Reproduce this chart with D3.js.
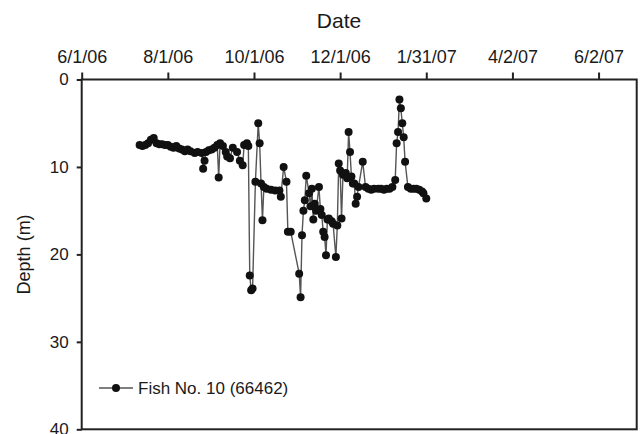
<!DOCTYPE html>
<html>
<head>
<meta charset="utf-8">
<script src="https://cdn.jsdelivr.net/npm/d3@7"></script>
<style>
  body { margin: 0; background: #fff; }
  svg text { font-family: Arial, "Liberation Sans", sans-serif; fill: #1a1a1a; }
</style>
</head>
<body>
<svg id="canvas" width="641" height="434"></svg>
<script>
const fechas = [
    "2006-07-12", "2006-07-14", "2006-07-16", "2006-07-18", "2006-07-20", "2006-07-22",
    "2006-07-24", "2006-07-26", "2006-07-28", "2006-07-30", "2006-08-01", "2006-08-03",
    "2006-08-05", "2006-08-07", "2006-08-09", "2006-08-11", "2006-08-13", "2006-08-15",
    "2006-08-17", "2006-08-20", "2006-08-22", "2006-08-25", "2006-08-26", "2006-08-27",
    "2006-08-28", "2006-08-30", "2006-09-01", "2006-09-03", "2006-09-05", "2006-09-06",
    "2006-09-07", "2006-09-09", "2006-09-11", "2006-09-12", "2006-09-14", "2006-09-16",
    "2006-09-19", "2006-09-21", "2006-09-23", "2006-09-24", "2006-09-26", "2006-09-27",
    "2006-09-28", "2006-09-29", "2006-09-30", "2006-10-02", "2006-10-04", "2006-10-05",
    "2006-10-06", "2006-10-07", "2006-10-08", "2006-10-10", "2006-10-13", "2006-10-16",
    "2006-10-19", "2006-10-20", "2006-10-22", "2006-10-24", "2006-10-25", "2006-10-27",
    "2006-11-02", "2006-11-03", "2006-11-04", "2006-11-05", "2006-11-06", "2006-11-07",
    "2006-11-09", "2006-11-10", "2006-11-11", "2006-11-12", "2006-11-13", "2006-11-14",
    "2006-11-16", "2006-11-17", "2006-11-18", "2006-11-19", "2006-11-20", "2006-11-21",
    "2006-11-22", "2006-11-23", "2006-11-25", "2006-11-26", "2006-11-28", "2006-11-29",
    "2006-11-30", "2006-12-01", "2006-12-02", "2006-12-03", "2006-12-05", "2006-12-06",
    "2006-12-07", "2006-12-08", "2006-12-09", "2006-12-10", "2006-12-11", "2006-12-12",
    "2006-12-13", "2006-12-14", "2006-12-17", "2006-12-19", "2006-12-21", "2006-12-23",
    "2006-12-25", "2006-12-28", "2006-12-30", "2007-01-01", "2007-01-03", "2007-01-05",
    "2007-01-07", "2007-01-09", "2007-01-10", "2007-01-11", "2007-01-12", "2007-01-13",
    "2007-01-14", "2007-01-15", "2007-01-16", "2007-01-18", "2007-01-20", "2007-01-22",
    "2007-01-24", "2007-01-26", "2007-01-28", "2007-01-29", "2007-01-31"
];

const profundidades = [
    7.5, 7.6, 7.5, 7.3, 6.9, 6.7,
    7.3, 7.4, 7.4, 7.5, 7.5, 7.7,
    7.8, 7.6, 7.9, 8.0, 8.2, 8.0,
    8.2, 8.4, 8.3, 8.4, 10.2, 9.3,
    8.3, 8.1, 8.0, 7.8, 7.5, 11.2,
    7.3, 7.6, 8.3, 8.8, 9.0, 7.8,
    8.3, 9.3, 9.8, 7.5, 7.3, 7.6,
    22.4, 24.1, 23.9, 11.7, 5.0, 7.3,
    11.9, 16.1, 12.3, 12.5, 12.6, 12.7,
    12.7, 13.4, 10.0, 11.7, 17.4, 17.4,
    22.2, 24.9, 17.8, 15.0, 13.8, 11.0,
    13.0, 14.5, 12.5, 16.0, 14.2, 15.0,
    12.3, 14.8, 15.5, 17.4, 18.0, 20.1,
    16.0, 15.9, 16.2, 16.5, 20.3, 16.7,
    9.6, 10.4, 15.9, 10.9, 10.7, 11.3,
    6.0, 8.3, 11.1, 11.9, 11.9, 14.2,
    13.4, 12.3, 9.4, 12.3, 12.5, 12.6,
    12.5, 12.5, 12.5, 12.6, 12.5, 12.5,
    12.3, 11.5, 7.3, 6.0, 2.3, 3.3,
    5.0, 6.6, 9.4, 12.3, 12.5, 12.5,
    12.5, 12.6, 12.8, 13.0, 13.6
];

const etiquetasFecha = ["6/1/06", "8/1/06", "10/1/06", "12/1/06", "1/31/07", "4/2/07", "6/2/07"];
const ticksFecha = ["2006-06-01", "2006-08-01", "2006-10-01", "2006-12-01", "2007-01-31", "2007-04-02", "2007-06-02"];
const ticksProfundidad = [0, 10, 20, 30, 40];
const nombreSerie = "Fish No. 10 (66462)";

const svg = d3.select("#canvas");
const parse = d3.utcParse("%Y-%m-%d");

const izq = 81.7, der = 636.7, arriba = 79.5, abajo = 429.3;

const x = d3.scaleUtc()
    .domain([parse("2006-06-01"), parse("2007-06-29")])
    .range([izq, der]);

const y = d3.scaleLinear()
    .domain([0, 40])
    .range([arriba, abajo]);

const datos = fechas.map((f, i) => ({ fecha: parse(f), prof: profundidades[i] }));

// Marco
svg.append("rect")
    .attr("x", izq).attr("y", arriba)
    .attr("width", der - izq).attr("height", abajo - arriba)
    .attr("fill", "none").attr("stroke", "#222").attr("stroke-width", 2);

// Eje superior (fechas)
const ejeX = svg.append("g")
    .attr("transform", `translate(0,${arriba})`)
    .call(d3.axisTop(x)
        .tickValues(ticksFecha.map(parse))
        .tickFormat((d, i) => etiquetasFecha[i])
        .tickSize(7)
        .tickPadding(10));
ejeX.select(".domain").remove();
ejeX.selectAll("line").attr("stroke", "#222").attr("stroke-width", 2);
ejeX.selectAll("text").style("font-size", "18px").attr("fill", "#1a1a1a");

// Eje izquierdo (profundidad)
const ejeY = svg.append("g")
    .attr("transform", `translate(${izq},0)`)
    .call(d3.axisLeft(y)
        .tickValues(ticksProfundidad)
        .tickSize(5)
        .tickPadding(8));
ejeY.select(".domain").remove();
ejeY.selectAll("line").attr("stroke", "#222").attr("stroke-width", 2);
ejeY.selectAll("text").style("font-size", "17px").attr("fill", "#1a1a1a");

// Titulos
svg.append("text")
    .attr("x", 339).attr("y", 28)
    .attr("text-anchor", "middle")
    .style("font-size", "21px")
    .text("Date");

svg.append("text")
    .attr("transform", `translate(30,${(arriba + abajo) / 2}) rotate(-90)`)
    .attr("text-anchor", "middle")
    .style("font-size", "18px")
    .text("Depth (m)");

// Serie
const linea = d3.line()
    .x(d => x(d.fecha))
    .y(d => y(d.prof));

svg.append("path")
    .datum(datos)
    .attr("d", linea)
    .attr("fill", "none")
    .attr("stroke", "#555")
    .attr("stroke-width", 1.4);

svg.append("g")
    .selectAll("circle")
    .data(datos)
    .join("circle")
    .attr("cx", d => x(d.fecha))
    .attr("cy", d => y(d.prof))
    .attr("r", 4)
    .attr("fill", "#111");

// Leyenda
const ley = svg.append("g").attr("transform", "translate(99,388)");
ley.append("line")
    .attr("x1", 0).attr("x2", 34)
    .attr("stroke", "#555").attr("stroke-width", 1.4);
ley.append("circle")
    .attr("cx", 17).attr("r", 4).attr("fill", "#111");
ley.append("text")
    .attr("x", 39).attr("y", 5.5)
    .style("font-size", "17px")
    .text(nombreSerie);
</script>
</body>
</html>
